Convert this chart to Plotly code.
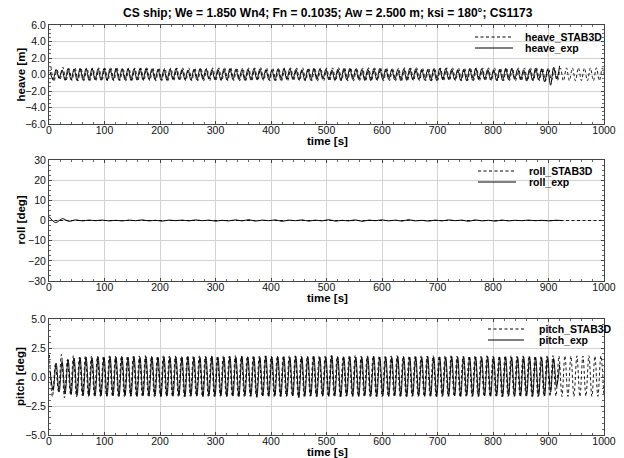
import numpy as np
import plotly.graph_objects as go

# ---------------- data ----------------
TITLE = "CS ship; We = 1.850 Wn4; Fn = 0.1035; Aw = 2.500 m; ksi = 180°; CS1173"
X_TICKS = [0, 100, 200, 300, 400, 500, 600, 700, 800, 900, 1000]

ENC_PERIOD = 10.8        # encounter period [s]
EXP_T0 = 2.0             # time of first experimental crest [s]
HEAVE_STAB_T0 = 3.5      # time of first STAB3D heave crest [s]
PITCH_STAB_T0 = 0.8      # time of first STAB3D pitch crest [s]
ROLL_DT = 12.0           # spacing of the read roll samples [s]

heave_exp_peaks = [
    0.30, 0.62, 0.55, 0.72, 0.68, 0.75, 0.70, 0.74, 0.69, 0.73,
    0.71, 0.76, 0.70, 0.72, 0.68, 0.74, 0.73, 0.69, 0.62, 0.58,
    0.66, 0.71, 0.60, 0.55, 0.64, 0.70, 0.66, 0.58, 0.62, 0.69,
    0.72, 0.64, 0.57, 0.63, 0.70, 0.68, 0.60, 0.55, 0.66, 0.73,
    0.70, 0.62, 0.58, 0.67, 0.74, 0.69, 0.61, 0.56, 0.65, 0.72,
    0.75, 0.66, 0.59, 0.63, 0.71, 0.74, 0.68, 0.60, 0.57, 0.66,
    0.73, 0.70, 0.62, 0.58, 0.67, 0.75, 0.72, 0.64, 0.59, 0.63,
    0.71, 0.76, 0.69, 0.61, 0.58, 0.66, 0.74, 0.72, 0.63, 0.57,
    0.65, 0.78, 0.70, 0.62, 0.85, 1.05]
heave_exp_troughs = [
    -0.62, -0.48, -0.70, -0.66, -0.72, -0.69, -0.71, -0.67, -0.70, -0.73,
    -0.68, -0.70, -0.66, -0.72, -0.69, -0.64, -0.58, -0.62, -0.68, -0.71,
    -0.63, -0.57, -0.61, -0.69, -0.66, -0.60, -0.56, -0.64, -0.70, -0.67,
    -0.59, -0.62, -0.71, -0.68, -0.60, -0.57, -0.65, -0.72, -0.69, -0.61,
    -0.58, -0.66, -0.73, -0.70, -0.62, -0.57, -0.64, -0.71, -0.74, -0.65,
    -0.60, -0.63, -0.72, -0.75, -0.67, -0.59, -0.58, -0.66, -0.73, -0.71,
    -0.62, -0.59, -0.68, -0.76, -0.73, -0.64, -0.58, -0.64, -0.72, -0.77,
    -0.70, -0.62, -0.59, -0.67, -0.75, -0.73, -0.64, -0.58, -0.66, -0.80,
    -0.72, -0.65, -0.90, -1.30, -0.55]

heave_stab_peaks = [
    0.95, 0.55, 0.88, 0.74, 0.84, 0.78, 0.82, 0.80, 0.81, 0.79,
    0.80, 0.82, 0.79, 0.81, 0.80, 0.78, 0.81, 0.80, 0.82, 0.79,
    0.81, 0.80, 0.79, 0.82, 0.80, 0.81, 0.78, 0.80, 0.81, 0.79,
    0.82, 0.80, 0.81, 0.79, 0.80, 0.82, 0.78, 0.81, 0.80, 0.79,
    0.81, 0.80, 0.82, 0.79, 0.80, 0.81, 0.78, 0.80, 0.82, 0.79,
    0.80, 0.81, 0.79, 0.82, 0.80, 0.78, 0.81, 0.80, 0.79, 0.82,
    0.80, 0.81, 0.79, 0.80, 0.82, 0.78, 0.81, 0.80, 0.79, 0.81,
    0.82, 0.80, 0.79, 0.81, 0.80, 0.78, 0.82, 0.80, 0.81, 0.79,
    0.80, 0.82, 0.79, 0.81, 0.80, 0.78, 0.81, 0.80, 0.82, 0.79,
    0.80, 0.81, 0.79]
heave_stab_troughs = [
    -0.85, -0.62, -0.80, -0.72, -0.78, -0.75, -0.77, -0.76, -0.75, -0.77,
    -0.76, -0.74, -0.77, -0.75, -0.76, -0.78, -0.75, -0.76, -0.74, -0.77,
    -0.75, -0.76, -0.77, -0.74, -0.76, -0.75, -0.78, -0.76, -0.75, -0.77,
    -0.74, -0.76, -0.75, -0.77, -0.76, -0.74, -0.78, -0.75, -0.76, -0.77,
    -0.75, -0.76, -0.74, -0.77, -0.76, -0.75, -0.78, -0.76, -0.74, -0.77,
    -0.76, -0.75, -0.77, -0.74, -0.76, -0.78, -0.75, -0.76, -0.77, -0.74,
    -0.76, -0.75, -0.77, -0.76, -0.74, -0.78, -0.75, -0.76, -0.77, -0.75,
    -0.74, -0.76, -0.77, -0.75, -0.76, -0.78, -0.74, -0.76, -0.75, -0.77,
    -0.76, -0.74, -0.77, -0.75, -0.76, -0.78, -0.75, -0.76, -0.74, -0.77,
    -0.76, -0.75, -0.77]

roll_exp = [
    2.0, -1.0, 0.9, -0.4, 0.3, -0.2, 0.2, -0.1, 0.2, -0.2,
    0.1, -0.2, 0.2, -0.1, 0.3, -0.2, 0.1, -0.3, 0.2, -0.1,
    0.2, -0.2, 0.3, -0.1, 0.2, -0.3, 0.1, -0.2, 0.3, -0.2,
    0.4, -0.3, 0.2, -0.1, 0.3, -0.4, 0.2, -0.1, 0.3, -0.3,
    0.2, -0.2, 0.4, -0.3, 0.1, -0.2, 0.3, -0.4, 0.2, -0.1,
    0.3, -0.2, 0.2, -0.3, 0.4, -0.2, 0.1, -0.3, 0.2, -0.2,
    0.3, -0.1, 0.2, -0.4, 0.3, -0.2, 0.1, -0.3, 0.2, -0.2,
    0.1, -0.1, 0.2, -0.1, 0.1, -0.2, 0.1, 0.0]
roll_stab_time = [0.0, 1000.0]
roll_stab = [0.0, 0.0]

pitch_exp_peaks = [
    0.55, 1.20, 1.35, 1.50, 1.62, 1.68, 1.72, 1.66, 1.74, 1.70,
    1.75, 1.69, 1.73, 1.71, 1.76, 1.68, 1.74, 1.72, 1.70, 1.75,
    1.71, 1.73, 1.69, 1.76, 1.72, 1.70, 1.74, 1.77, 1.71, 1.73,
    1.75, 1.70, 1.78, 1.72, 1.74, 1.69, 1.82, 1.73, 1.71, 1.75,
    1.72, 1.76, 1.70, 1.74, 1.78, 1.71, 1.73, 1.85, 1.72, 1.70,
    1.76, 1.73, 1.71, 1.75, 1.78, 1.72, 1.74, 1.70, 1.76, 1.73,
    1.71, 1.75, 1.72, 1.77, 1.70, 1.74, 1.73, 1.76, 1.71, 1.75,
    1.72, 1.74, 1.70, 1.76, 1.73, 1.71, 1.75, 1.72, 1.70, 1.74,
    1.73, 1.71, 1.69, 1.72, 1.60, 1.05]
pitch_exp_troughs = [
    -1.15, -1.30, -1.45, -1.52, -1.58, -1.62, -1.60, -1.65, -1.62, -1.66,
    -1.63, -1.67, -1.61, -1.65, -1.68, -1.62, -1.66, -1.64, -1.69, -1.63,
    -1.66, -1.62, -1.68, -1.65, -1.63, -1.70, -1.64, -1.66, -1.62, -1.67,
    -1.65, -1.69, -1.63, -1.66, -1.75, -1.64, -1.67, -1.62, -1.68, -1.65,
    -1.63, -1.78, -1.66, -1.64, -1.69, -1.62, -1.67, -1.65, -1.70, -1.63,
    -1.66, -1.68, -1.62, -1.65, -1.69, -1.64, -1.67, -1.63, -1.66, -1.70,
    -1.64, -1.62, -1.67, -1.65, -1.69, -1.63, -1.66, -1.64, -1.68, -1.62,
    -1.65, -1.67, -1.63, -1.66, -1.64, -1.69, -1.62, -1.66, -1.65, -1.63,
    -1.67, -1.64, -1.62, -1.30, -0.80]

pitch_stab_peaks = [
    1.90, 1.10, 1.95, 1.50, 1.85, 1.70, 1.82, 1.78, 1.80, 1.79,
    1.82, 1.80, 1.83, 1.81, 1.80, 1.82, 1.84, 1.81, 1.80, 1.83,
    1.81, 1.82, 1.80, 1.84, 1.81, 1.82, 1.80, 1.83, 1.81, 1.82,
    1.80, 1.84, 1.82, 1.81, 1.83, 1.80, 1.82, 1.81, 1.84, 1.80,
    1.82, 1.83, 1.81, 1.80, 1.84, 1.82, 1.81, 1.83, 1.80, 1.82,
    1.81, 1.84, 1.80, 1.82, 1.83, 1.81, 1.80, 1.82, 1.84, 1.81,
    1.83, 1.80, 1.82, 1.81, 1.84, 1.80, 1.82, 1.83, 1.81, 1.80,
    1.82, 1.84, 1.81, 1.83, 1.80, 1.82, 1.81, 1.84, 1.80, 1.82,
    1.83, 1.81, 1.80, 1.82, 1.84, 1.81, 1.83, 1.80, 1.82, 1.81,
    1.84, 1.80, 1.82]
pitch_stab_troughs = [
    -1.70, -1.25, -1.80, -1.45, -1.72, -1.62, -1.68, -1.66, -1.67, -1.66,
    -1.68, -1.67, -1.69, -1.66, -1.68, -1.70, -1.67, -1.68, -1.66, -1.69,
    -1.67, -1.68, -1.70, -1.66, -1.68, -1.67, -1.69, -1.68, -1.66, -1.70,
    -1.67, -1.68, -1.69, -1.66, -1.68, -1.70, -1.67, -1.68, -1.66, -1.69,
    -1.68, -1.67, -1.70, -1.66, -1.68, -1.69, -1.67, -1.68, -1.70, -1.66,
    -1.68, -1.67, -1.69, -1.68, -1.66, -1.70, -1.67, -1.68, -1.69, -1.66,
    -1.68, -1.70, -1.67, -1.68, -1.66, -1.69, -1.67, -1.68, -1.70, -1.66,
    -1.68, -1.67, -1.69, -1.68, -1.66, -1.70, -1.67, -1.68, -1.69, -1.66,
    -1.68, -1.70, -1.67, -1.68, -1.66, -1.69, -1.67, -1.68, -1.70, -1.66,
    -1.68, -1.67, -1.69]

# ---------------- helpers ----------------
def crest_trough_series(t0, peaks, troughs):
    """Interleave the read crests and troughs; they are half a period apart."""
    y = []
    for i, p in enumerate(peaks):
        y.append(p)
        if i < len(troughs):
            y.append(troughs[i])
    t = t0 + 0.5 * ENC_PERIOD * np.arange(len(y))
    return t, y

FONT = "Liberation Sans, Arial, Helvetica, sans-serif"
W, H = 624, 458
L, R, T, B = 49, 20, 25, 23
PW, PH = W - L - R, H - T - B


def px(x):
    return (x - L) / PW


def py(y):
    return (H - B - y) / PH


# panel pixel extents (top, bottom) and x-title offset below each panel
panels = [(25, 124), (160, 281), (319, 435)]
xtitle_offsets = [16.5, 17.5, 16.5]

fig = go.Figure()

DASH = "3px,2.5px"
series = [
    ("heave_STAB3D", crest_trough_series(HEAVE_STAB_T0, heave_stab_peaks, heave_stab_troughs), DASH, "y"),
    ("heave_exp", crest_trough_series(EXP_T0, heave_exp_peaks, heave_exp_troughs), "solid", "y"),
    ("roll_STAB3D", (np.array(roll_stab_time), roll_stab), DASH, "y2"),
    ("roll_exp", (ROLL_DT * np.arange(len(roll_exp)), roll_exp), "solid", "y2"),
    ("pitch_STAB3D", crest_trough_series(PITCH_STAB_T0, pitch_stab_peaks, pitch_stab_troughs), DASH, "y3"),
    ("pitch_exp", crest_trough_series(EXP_T0, pitch_exp_peaks, pitch_exp_troughs), "solid", "y3"),
]
xmap = {"y": "x", "y2": "x2", "y3": "x3"}
for name, (t, y), dash, yax in series:
    fig.add_trace(go.Scatter(
        x=t, y=y, name=name, mode="lines", xaxis=xmap[yax], yaxis=yax,
        line=dict(color="black", width=1.0 if dash == "solid" else 0.9, dash=dash,
                  shape="spline", smoothing=1.0),
        showlegend=False, hoverinfo="skip"))

tickfont = dict(family=FONT, size=10.5, color="#111")
common_x = dict(range=[0, 1000], tickvals=X_TICKS, ticktext=[str(v) for v in X_TICKS],
                showgrid=True, gridcolor="#d2d2d2", gridwidth=1, zeroline=False,
                showline=True, mirror="ticks", linecolor="#444", linewidth=1,
                ticks="inside", ticklen=3, tickcolor="#444", tickfont=tickfont,
                automargin=False, ticklabelstandoff=-4,
                minor=dict(ticks="inside", ticklen=2, dtick=20, tickcolor="#666", showgrid=False))
common_y = dict(showgrid=True, gridcolor="#d2d2d2", gridwidth=1, zeroline=False,
                showline=True, mirror="ticks", linecolor="#444", linewidth=1,
                ticks="inside", ticklen=3, tickcolor="#444", tickfont=tickfont,
                automargin=False)

y_specs = [
    dict(range=[-6, 6], tick0=-6, dtick=2, tickformat=".1f",
         minor=dict(ticks="inside", ticklen=2, dtick=0.5, tickcolor="#666", showgrid=False)),
    dict(range=[-30, 30], tick0=-30, dtick=10, tickformat="d",
         minor=dict(ticks="inside", ticklen=2, dtick=2.5, tickcolor="#666", showgrid=False)),
    dict(range=[-5, 5], tick0=-5, dtick=2.5, tickformat=".1f",
         minor=dict(ticks="inside", ticklen=2, dtick=0.5, tickcolor="#666", showgrid=False)),
]

layout = dict(width=W, height=H, margin=dict(l=L, r=R, t=T, b=B, autoexpand=False),
              paper_bgcolor="white", plot_bgcolor="white", showlegend=False,
              font=dict(family=FONT, color="black"))
for i, (top, bot) in enumerate(panels):
    sfx = "" if i == 0 else str(i + 1)
    layout["xaxis" + sfx] = dict(common_x, domain=[0, 1], anchor="y" + sfx)
    layout["yaxis" + sfx] = dict(common_y, **y_specs[i], domain=[py(bot), py(top)], anchor="x" + sfx)
fig.update_layout(**layout)

bold = dict(family=FONT, size=11.5, color="black", weight="bold")
ann = [dict(text=TITLE, x=px(328), y=py(13), xref="paper", yref="paper",
            showarrow=False, xanchor="center", yanchor="middle",
            font=dict(family=FONT, size=12, color="black", weight="bold"))]
ytitles = ["heave [m]", "roll [deg]", "pitch [deg]"]
for (top, bot), off, yt in zip(panels, xtitle_offsets, ytitles):
    ann.append(dict(text=yt, x=px(20), y=py((top + bot) / 2), xref="paper", yref="paper",
                    showarrow=False, textangle=-90, xanchor="center", yanchor="middle", font=bold))
    ann.append(dict(text="time [s]", x=px(327), y=py(bot + off), xref="paper", yref="paper",
                    showarrow=False, xanchor="center", yanchor="middle", font=bold))

# in-plot legends (dashed = STAB3D, solid = experiment)
legend_rows = [
    (("heave_STAB3D", "heave_exp"), 475, 513, 523, 37, 48),
    (("roll_STAB3D", "roll_exp"), 478, 516, 527, 171, 182),
    (("pitch_STAB3D", "pitch_exp"), 488, 524, 537, 329, 340),
]
shapes = []
legfont = dict(family=FONT, size=10.5, color="black", weight="bold")
for (n1, n2), x0, x1, xt, y1, y2 in legend_rows:
    shapes.append(dict(type="line", xref="paper", yref="paper", x0=px(x0), x1=px(x1),
                       y0=py(y1), y1=py(y1), line=dict(color="black", width=1, dash=DASH)))
    shapes.append(dict(type="line", xref="paper", yref="paper", x0=px(x0), x1=px(x1),
                       y0=py(y2), y1=py(y2), line=dict(color="black", width=1)))
    for name, yy in ((n1, y1), (n2, y2)):
        ann.append(dict(text=name, x=px(xt), y=py(yy), xref="paper", yref="paper",
                        showarrow=False, xanchor="left", yanchor="middle", font=legfont))
fig.update_layout(annotations=ann, shapes=shapes)

fig.write_html("out.html", config={"displayModeBar": False},
               post_script="document.body.style.margin='0';document.body.style.padding='0';")
